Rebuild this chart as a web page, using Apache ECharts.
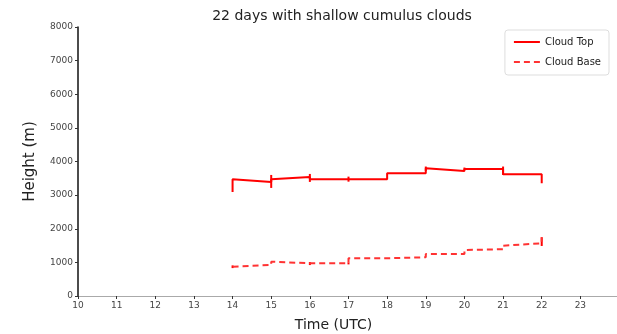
<!DOCTYPE html>
<html>
<head>
<meta charset="utf-8">
<script src="https://cdn.jsdelivr.net/npm/echarts@6/dist/echarts.min.js"></script>
<style>
html,body{margin:0;padding:0;background:#fff;}
#main{width:617px;height:334px;}
</style>
</head>
<body>
<div id="main"></div>
<script>
// 云顶高度：按绘制顺序的小时和高度
var topHours  = [14, 14, 15, 15, 16, 16, 17, 18, 18, 19, 19, 20, 20, 21, 21, 22, 22];
var topValues = [3095, 3473, 3393, 3473, 3540, 3473, 3473, 3473, 3652, 3652, 3800, 3720, 3780, 3780, 3622, 3622, 3354];
// 云底高度
var baseHours  = [14, 15, 15, 16, 17, 17, 18, 18, 19, 19, 20, 20, 21, 21, 22, 22];
var baseValues = [872, 923, 1021, 973, 973, 1122, 1122, 1152, 1152, 1250, 1250, 1369, 1390, 1497, 1568, 1747];
// 小竖线（误差线）：小时、下限、上限
var topBarHours = [15, 16, 17, 19, 20, 21];
var topBarLow   = [3214, 3393, 3400, 3720, 3750, 3600];
var topBarHigh  = [3600, 3630, 3550, 3850, 3820, 3850];
var baseBarHours = [14, 16, 17, 22];
var baseBarLow   = [830, 920, 940, 1488];
var baseBarHigh  = [910, 1010, 1000, 1747];
var xTicks = [10, 11, 12, 13, 14, 15, 16, 17, 18, 19, 20, 21, 22, 23];

var myChart = echarts.init(document.getElementById('main'));

function pairs(xs, ys){
    var out = [];
    for(var i=0; i<xs.length; i++){
        out.push([xs[i], ys[i]]);
    }
    return out;
}
function triples(xs, lo, hi){
    var out = [];
    for(var i=0; i<xs.length; i++){
        out.push([xs[i], lo[i], hi[i]]);
    }
    return out;
}
// 画竖线
function barRender(params, api){
    var a = api.coord([api.value(0), api.value(1)]);
    var b = api.coord([api.value(0), api.value(2)]);
    return {
        type: 'line',
        shape: {x1: a[0], y1: a[1], x2: b[0], y2: b[1]},
        style: {stroke: '#ff0000', lineWidth: 2}
    };
}

var font = 'DejaVu Sans';
myChart.setOption({
    animation: false,
    title: {
        text: '22 days with shallow cumulus clouds',
        left: 337,
        textAlign: 'center',
        top: 4,
        textStyle: {fontFamily: font, fontSize: 14, fontWeight: 'normal', color: '#222'}
    },
    legend: {
        data: ['Cloud Top', 'Cloud Base'],
        orient: 'vertical',
        right: 8,
        top: 30,
        itemWidth: 26,
        itemHeight: 10,
        itemGap: 10,
        padding: [7, 8, 8, 8],
        borderColor: '#ddd',
        borderWidth: 1,
        borderRadius: 3,
        itemStyle: {opacity: 0},
        textStyle: {fontFamily: font, fontSize: 10, color: '#222'}
    },
    grid: {left: 78, right: -2, top: 27, bottom: 38, containLabel: false, outerBoundsMode: 'none'},
    xAxis: {
        type: 'value',
        min: 10,
        max: 24,
        interval: 1,
        name: 'Time (UTC)',
        nameLocation: 'middle',
        nameGap: 22,
        nameTextStyle: {fontFamily: font, fontSize: 14, color: '#222', padding: [0, 30, 0, 0]},
        axisLine: {lineStyle: {color: '#aaa', width: 1}},
        axisTick: {show: true, length: 3, lineStyle: {color: '#333'}},
        axisLabel: {
            fontFamily: font, fontSize: 9, color: '#444', margin: 5,
            formatter: function(v){ return xTicks.indexOf(v) >= 0 ? String(v) : ''; }
        },
        splitLine: {show: false}
    },
    yAxis: {
        type: 'value',
        min: 0,
        max: 8000,
        interval: 1000,
        name: 'Height (m)',
        nameLocation: 'middle',
        nameGap: 40,
        nameTextStyle: {fontFamily: font, fontSize: 15, color: '#222'},
        axisLine: {show: true, lineStyle: {color: '#111', width: 1.5}},
        axisTick: {show: true, length: 3, lineStyle: {color: '#333'}},
        axisLabel: {fontFamily: font, fontSize: 9, color: '#444', margin: 5,
            formatter: function(v){ return String(v); }},
        splitLine: {show: false}
    },
    series: [
        {
            name: 'Cloud Top',
            type: 'line',
            data: pairs(topHours, topValues),
            symbol: 'none',
            color: '#ff0000',
            lineStyle: {color: '#ff0000', width: 2}
        },
        {
            name: 'Cloud Base',
            type: 'line',
            data: pairs(baseHours, baseValues),
            symbol: 'none',
            color: '#ff3333',
            lineStyle: {color: '#ff3333', width: 2, type: [6, 4]}
        },
        {
            name: 'topBars',
            type: 'custom',
            renderItem: barRender,
            data: triples(topBarHours, topBarLow, topBarHigh)
        },
        {
            name: 'baseBars',
            type: 'custom',
            renderItem: barRender,
            data: triples(baseBarHours, baseBarLow, baseBarHigh)
        }
    ]
});
</script>
</body>
</html>
